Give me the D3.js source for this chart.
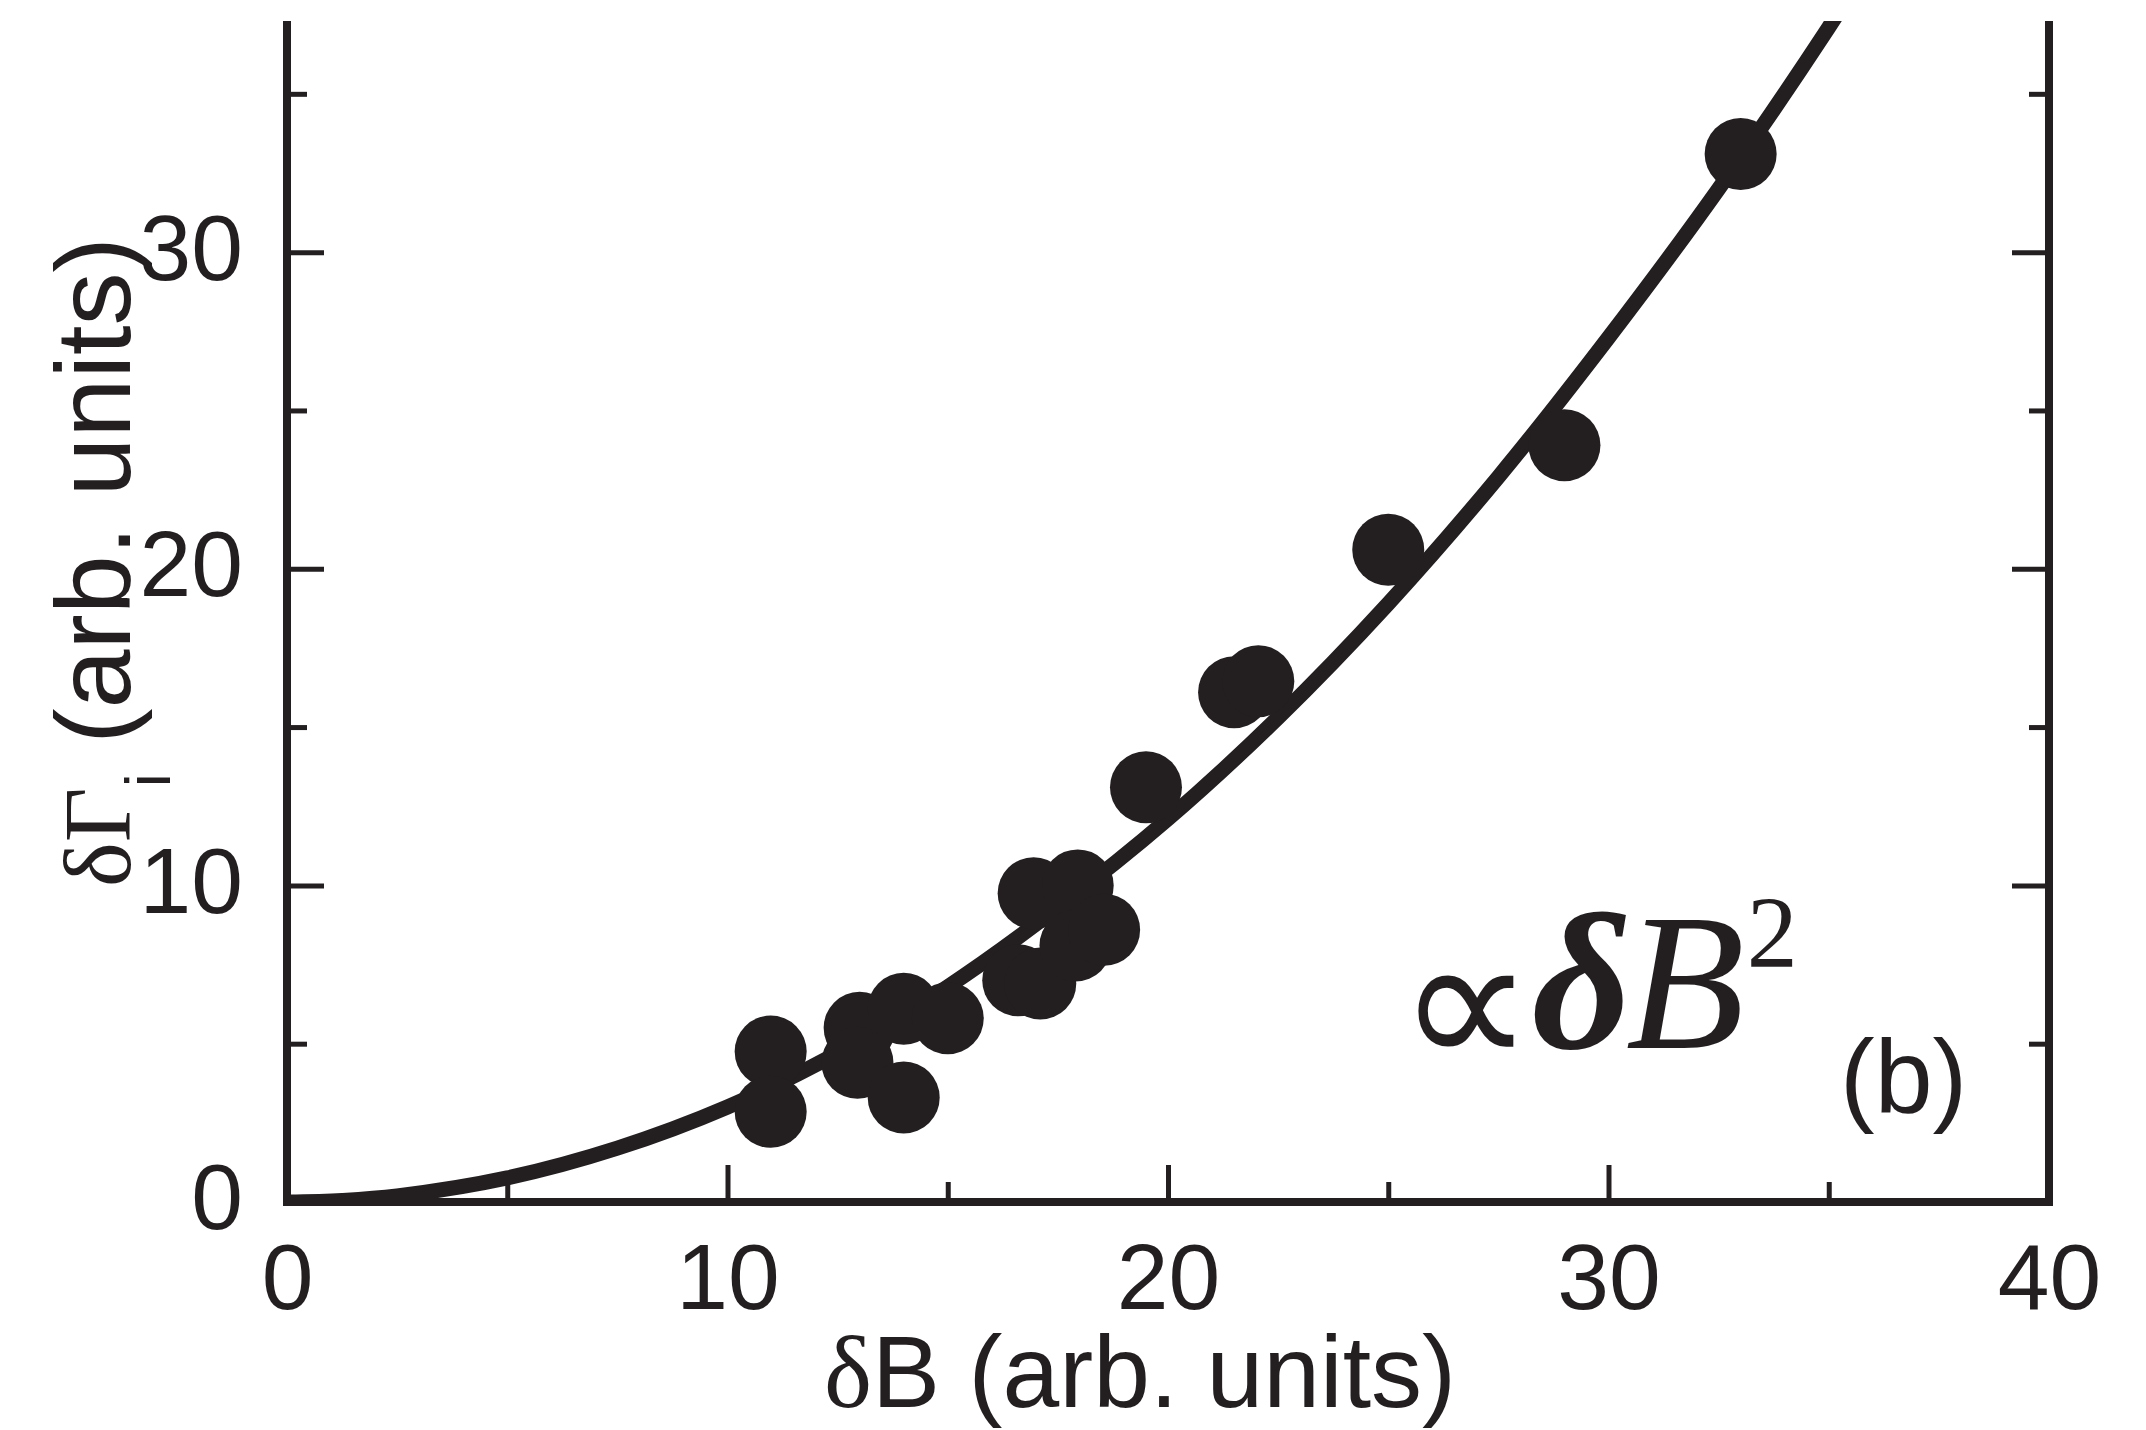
<!DOCTYPE html>
<html>
<head>
<meta charset="utf-8">
<script src="https://cdn.jsdelivr.net/npm/d3@7"></script>
<style>
  html, body { margin: 0; padding: 0; background: #fff; }
  svg { display: block; }
</style>
</head>
<body>
<svg id="chart" width="2146" height="1430"></svg>
<script>
// ---- data ----
const pointX = [10.98, 10.98, 13.0, 12.95, 14.0, 14.0, 15.0, 16.6, 17.1, 16.95, 17.95, 17.9, 18.55, 19.5, 21.5, 22.05, 25.0, 29.0, 33.0];
const pointY = [4.75, 2.85, 5.5, 4.4, 6.1, 3.3, 5.8, 7.0, 6.9, 9.75, 10.0, 8.1, 8.6, 13.1, 16.1, 16.45, 20.6, 23.9, 33.1];

const fitX = [0, 1.25, 2.5, 5, 7.5, 10, 12.5, 15, 17.5, 20, 22.5, 25, 27.5, 30, 32.5, 35, 36];
const fitY = [0, 0.05, 0.19, 0.76, 1.7, 3.0, 4.7, 6.8, 9.3, 12.1, 15.3, 18.9, 22.9, 27.3, 32.0, 37.1, 39.3];

const xMajorTicks = [0, 10, 20, 30, 40];
const xMinorTicks = [5, 15, 25, 35];
const yMajorTicks = [0, 10, 20, 30];
const yMinorTicks = [5, 15, 25, 35];

const xDomain = [0, 40];
const yDomain = [0, 37.3];

// ---- layout ----
const INK = "#231f20";
const SANS = "'Liberation Sans', Arial, Helvetica, sans-serif";
const SERIF = "'Liberation Serif', 'Times New Roman', serif";
const pLeft = 287, pRight = 2049, pBottom = 1202, pTop = 21;

const svg = d3.select("#chart");
const x = d3.scaleLinear().domain(xDomain).range([pLeft, pRight]);
const y = d3.scaleLinear().domain(yDomain).range([pBottom, pTop]);

svg.append("defs").append("clipPath").attr("id", "plotclip")
  .append("rect").attr("x", pLeft).attr("y", pTop)
  .attr("width", pRight - pLeft).attr("height", pBottom - pTop);

// fit curve
const line = d3.line().x((d, i) => x(fitX[i])).y((d, i) => y(fitY[i])).curve(d3.curveCatmullRom.alpha(0.5));
svg.append("path")
  .attr("d", line(fitX))
  .attr("clip-path", "url(#plotclip)")
  .attr("fill", "none").attr("stroke", INK).attr("stroke-width", 15);

// points
svg.append("g").selectAll("circle").data(pointX).join("circle")
  .attr("cx", (d, i) => x(pointX[i]))
  .attr("cy", (d, i) => y(pointY[i]))
  .attr("r", 36)
  .attr("fill", INK);

// axes helper
function styleAxis(g, w) {
  g.select(".domain").remove();
  g.selectAll(".tick line").attr("stroke", INK).attr("stroke-width", w);
  g.selectAll(".tick text").attr("fill", INK).attr("font-family", SANS).attr("font-size", 93);
}

// bottom
const gxMin = svg.append("g").attr("transform", `translate(0,${pBottom})`)
  .call(d3.axisBottom(x).tickValues(xMinorTicks).tickSize(-20).tickFormat(""));
styleAxis(gxMin, 5);
const gx = svg.append("g").attr("transform", `translate(0,${pBottom})`)
  .call(d3.axisBottom(x).tickValues(xMajorTicks).tickSize(-37).tickSizeOuter(0).tickPadding(41).tickFormat(d3.format("d")));
styleAxis(gx, 5);

// left
const gyMin = svg.append("g").attr("transform", `translate(${pLeft},0)`)
  .call(d3.axisLeft(y).tickValues(yMinorTicks).tickSize(-20).tickFormat(""));
styleAxis(gyMin, 5);
const gy = svg.append("g").attr("transform", `translate(${pLeft},0)`)
  .call(d3.axisLeft(y).tickValues(yMajorTicks).tickSize(-37).tickSizeOuter(0).tickPadding(44).tickFormat(d3.format("d")));
styleAxis(gy, 5);
gy.selectAll(".tick text").attr("dy", "0.29em");

// right
const grMin = svg.append("g").attr("transform", `translate(${pRight},0)`)
  .call(d3.axisRight(y).tickValues(yMinorTicks).tickSize(-20).tickFormat(""));
styleAxis(grMin, 5);
const gr = svg.append("g").attr("transform", `translate(${pRight},0)`)
  .call(d3.axisRight(y).tickValues(yMajorTicks.filter(v => v > 0)).tickSize(-37).tickFormat(""));
styleAxis(gr, 5);

// axis lines
const frame = svg.append("g").attr("stroke", INK).attr("stroke-width", 8).attr("fill", "none");
frame.append("path").attr("d", `M${pLeft},${pTop}V${pBottom}H${pRight}V${pTop}`)
  .attr("stroke-linejoin", "miter");

// x title
const xt = svg.append("text").attr("x", 1140).attr("y", 1407)
  .attr("text-anchor", "middle").attr("fill", INK).attr("font-family", SANS).attr("font-size", 102);
xt.append("tspan").attr("font-family", SERIF).text("δ");
xt.append("tspan").text("B (arb. units)");

// y title
const yt = svg.append("text").attr("transform", "rotate(-90)")
  .attr("x", -887).attr("y", 130)
  .attr("fill", INK).attr("font-family", SANS).attr("font-size", 106);
yt.append("tspan").attr("font-family", SERIF).attr("font-size", 95).text("δΓ");
yt.append("tspan").attr("font-size", 63).attr("dy", 40).text("i");
yt.append("tspan").attr("dy", -40).text(" (arb. units)");

// annotation ∝δB²
const an = svg.append("text").attr("x", 1398).attr("y", 1048).attr("fill", INK);
an.append("tspan").attr("font-family", "'DejaVu Sans', sans-serif").attr("font-size", 190).attr("dy", 20).text("∝");
an.append("tspan").attr("font-family", SERIF).attr("font-size", 195).attr("font-style", "italic").attr("font-weight", "bold").attr("dy", -20).attr("dx", -2).text("δ");
an.append("tspan").attr("font-family", SERIF).attr("font-size", 195).attr("font-style", "italic").attr("dx", -6).text("B");
an.append("tspan").attr("font-family", SERIF).attr("font-size", 102).attr("dy", -81).attr("dx", 2).text("2");

// panel label
svg.append("text").attr("x", 1840).attr("y", 1112)
  .attr("fill", INK).attr("font-family", SANS).attr("font-size", 104).text("(b)");
</script>
</body>
</html>
